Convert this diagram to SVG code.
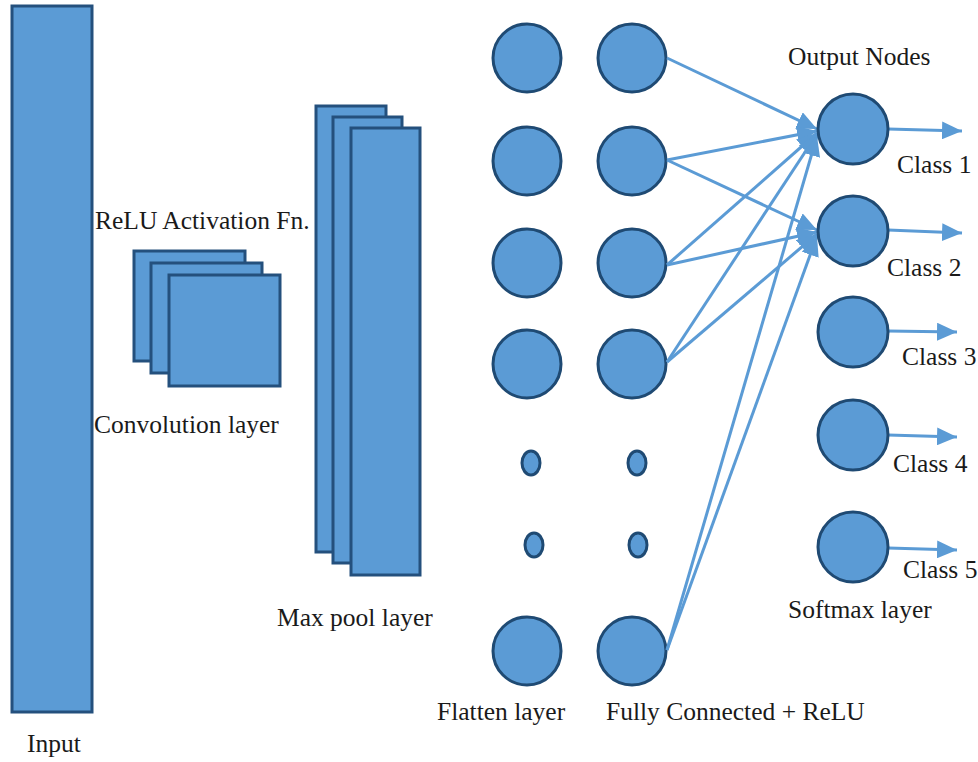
<svg xmlns="http://www.w3.org/2000/svg" width="978" height="762" viewBox="0 0 978 762">
<style>
.blk{fill:#5B9BD5;stroke:#24507D;stroke-width:3}
.nd{fill:#5B9BD5;stroke:#1F4A73;stroke-width:3}
.ln{stroke:#5B9BD5;stroke-width:3;fill:none}
.t{font-family:"Liberation Serif","Times New Roman",serif;font-size:25.5px;fill:#1a1a1a}
</style>
<defs>
<marker id="ah" viewBox="0 0 20 18" refX="20" refY="9" markerWidth="20" markerHeight="18" markerUnits="userSpaceOnUse" orient="auto">
<path d="M0,0 L20,9 L0,18 z" fill="#5B9BD5"/>
</marker>
</defs>
<rect width="978" height="762" fill="#ffffff"/>
<g id="input">
<rect class="blk" x="12" y="6" width="80" height="706"/>
<text class="t" x="27" y="752">Input</text>
</g>
<g id="conv">
<rect class="blk" x="134" y="251" width="111" height="110"/>
<rect class="blk" x="151" y="263" width="111" height="110"/>
<rect class="blk" x="169" y="275" width="111" height="111"/>
<text class="t" x="95" y="229">ReLU Activation Fn.</text>
<text class="t" x="94" y="433">Convolution layer</text>
</g>
<g id="maxpool">
<rect class="blk" x="316" y="106" width="70" height="446"/>
<rect class="blk" x="333" y="117" width="69" height="446"/>
<rect class="blk" x="351" y="128" width="69" height="447"/>
<text class="t" x="277" y="626">Max pool layer</text>
</g>
<g id="flatten">
<circle class="nd" cx="527" cy="58" r="34"/>
<circle class="nd" cx="527" cy="161" r="34"/>
<circle class="nd" cx="527" cy="263" r="34"/>
<circle class="nd" cx="527" cy="364" r="34"/>
<ellipse class="nd" cx="531" cy="463" rx="9" ry="12"/>
<ellipse class="nd" cx="534" cy="545" rx="9" ry="12"/>
<circle class="nd" cx="527" cy="651" r="34"/>
<text class="t" x="437" y="720">Flatten layer</text>
</g>
<g id="fc">
<circle class="nd" cx="632" cy="58" r="34"/>
<circle class="nd" cx="632" cy="161" r="34"/>
<circle class="nd" cx="632" cy="263" r="34"/>
<circle class="nd" cx="632" cy="364" r="34"/>
<ellipse class="nd" cx="637" cy="463" rx="9" ry="12"/>
<ellipse class="nd" cx="638" cy="545" rx="9" ry="12"/>
<circle class="nd" cx="632" cy="651" r="34"/>
<text class="t" x="606" y="720">Fully Connected + ReLU</text>
</g>
<g id="connectors">
<line class="ln" x1="667" y1="58" x2="817" y2="129" marker-end="url(#ah)"/>
<line class="ln" x1="667" y1="160" x2="817" y2="131" marker-end="url(#ah)"/>
<line class="ln" x1="667" y1="160" x2="817" y2="230" marker-end="url(#ah)"/>
<line class="ln" x1="667" y1="265" x2="817" y2="133" marker-end="url(#ah)"/>
<line class="ln" x1="667" y1="265" x2="817" y2="232" marker-end="url(#ah)"/>
<line class="ln" x1="667" y1="362" x2="817" y2="134" marker-end="url(#ah)"/>
<line class="ln" x1="667" y1="362" x2="817" y2="234" marker-end="url(#ah)"/>
<line class="ln" x1="667" y1="650" x2="817" y2="136" marker-end="url(#ah)"/>
<line class="ln" x1="667" y1="650" x2="817" y2="236" marker-end="url(#ah)"/>
<line class="ln" x1="888" y1="129" x2="962" y2="131" marker-end="url(#ah)"/>
<line class="ln" x1="888" y1="230" x2="962" y2="233" marker-end="url(#ah)"/>
<line class="ln" x1="888" y1="331" x2="957" y2="332" marker-end="url(#ah)"/>
<line class="ln" x1="888" y1="435" x2="957" y2="437" marker-end="url(#ah)"/>
<line class="ln" x1="888" y1="548" x2="957" y2="550" marker-end="url(#ah)"/>
</g>
<g id="output">
<text class="t" x="788" y="65">Output Nodes</text>
<circle class="nd" cx="853" cy="129" r="35"/>
<circle class="nd" cx="853" cy="231" r="35"/>
<circle class="nd" cx="853" cy="332" r="35"/>
<circle class="nd" cx="853" cy="435" r="35"/>
<circle class="nd" cx="853" cy="547" r="35"/>
<text class="t" x="897" y="173">Class 1</text>
<text class="t" x="887" y="276">Class 2</text>
<text class="t" x="902" y="365">Class 3</text>
<text class="t" x="893" y="472">Class 4</text>
<text class="t" x="903" y="578">Class 5</text>
<text class="t" x="788" y="618">Softmax layer</text>
</g>
</svg>
